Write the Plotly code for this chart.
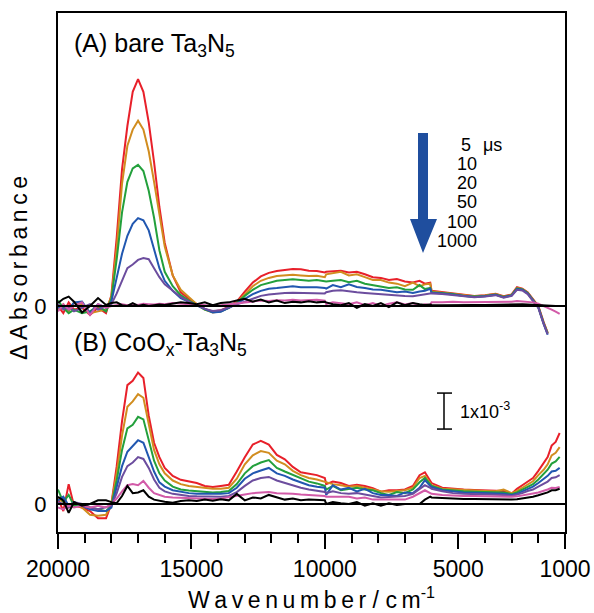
import plotly.graph_objects as go

# ---------------- data (ΔAbs in units of 1e-3) ----------------
wn_vis = [20000, 19800, 19600, 19400, 19100, 18800, 18500, 18200, 18000,
          17800, 17600, 17400, 17200, 17000, 16800, 16600, 16400, 16200, 16000, 15700, 15400, 15100,
          14800, 14500, 14200, 13900, 13600, 13300, 13000, 12700, 12400, 12100, 11800, 11500, 11200,
          10900, 10600, 10300, 10000]
wn_nir = [9950, 9700, 9400, 9100, 8800, 8500, 8200, 7900, 7600, 7300, 7000, 6700, 6450, 6250, 6050]
wn_ir = [6000, 5600, 5200, 4800, 4400, 4000, 3600, 3300, 3000, 2800, 2600, 2400, 2200, 2000,
         1800, 1650, 1500, 1350, 1200]

delays = ["5 μs", "10 μs", "20 μs", "50 μs", "100 μs", "1000 μs", "black"]
legend_labels = ["5", "10", "20", "50", "100", "1000"]

# Panel A : bare Ta3N5
a_5 = ([0.0, -0.2, 0.1, -0.1, -0.05, -0.25, -0.05, -0.2, 0.3,
        1.9, 3.8, 5.0, 5.95, 6.3, 5.95, 5.1, 4.0, 2.75, 1.75, 0.85, 0.38, 0.2,
        0.05, -0.08, -0.15, -0.12, -0.02, 0.12, 0.4, 0.65, 0.82, 0.92, 0.97, 1.0, 1.03, 1.02, 0.98, 0.97, 0.93]
       + [0.95, 0.97, 0.98, 0.93, 0.95, 0.88, 0.8, 0.78, 0.72, 0.75, 0.68, 0.65, 0.7, 0.62, 0.65]
       + [0.42, 0.38, 0.35, 0.3, 0.28, 0.3, 0.34, 0.27, 0.32, 0.52, 0.48, 0.38, 0.2, 0.0, -0.45, -0.75, None, None, None])
a_10 = ([-0.1, 0.05, -0.15, 0.1, 0.05, -0.2, -0.15, -0.1, 0.25,
         1.6, 3.4, 4.45, 4.9, 5.15, 4.9, 4.3, 3.45, 2.5, 1.65, 0.85, 0.45, 0.25,
         0.05, -0.1, -0.18, -0.15, -0.05, 0.1, 0.33, 0.55, 0.7, 0.78, 0.83, 0.85, 0.87, 0.85, 0.83, 0.84, 0.8]
        + [0.88, 0.92, 0.95, 0.85, 0.88, 0.8, 0.72, 0.72, 0.65, 0.62, 0.55, 0.65, 0.55, 0.6, 0.62]
        + [0.4, 0.37, 0.34, 0.29, 0.27, 0.29, 0.33, 0.26, 0.31, 0.5, 0.47, 0.37, 0.19, -0.02, -0.47, -0.75, None, None, None])
a_20 = ([0.15, -0.05, -0.2, -0.1, -0.2, -0.15, 0.0, -0.15, 0.2,
         1.3, 2.6, 3.45, 3.82, 3.92, 3.75, 3.2, 2.45, 1.55, 0.95, 0.55, 0.3, 0.15,
         0.03, -0.1, -0.17, -0.15, -0.05, 0.08, 0.28, 0.45, 0.58, 0.65, 0.7, 0.72, 0.74, 0.72, 0.7, 0.72, 0.68]
        + [0.68, 0.7, 0.72, 0.66, 0.7, 0.62, 0.58, 0.55, 0.5, 0.52, 0.46, 0.45, 0.58, 0.47, 0.5]
        + [0.38, 0.36, 0.33, 0.28, 0.26, 0.28, 0.32, 0.25, 0.3, 0.49, 0.46, 0.36, 0.18, -0.03, -0.48, -0.76, None, None, None])
a_50 = ([-0.05, 0.0, -0.1, 0.1, 0.12, -0.2, 0.05, -0.05, 0.12,
         0.75, 1.45, 1.95, 2.28, 2.44, 2.38, 2.1, 1.6, 1.05, 0.7, 0.42, 0.22, 0.12,
         0.02, -0.1, -0.18, -0.16, -0.06, 0.06, 0.2, 0.33, 0.42, 0.48, 0.5, 0.53, 0.55, 0.52, 0.53, 0.52, 0.5]
        + [0.48, 0.58, 0.52, 0.6, 0.53, 0.5, 0.46, 0.45, 0.42, 0.38, 0.4, 0.36, 0.4, 0.42, 0.48]
        + [0.37, 0.35, 0.32, 0.27, 0.25, 0.27, 0.31, 0.24, 0.29, 0.47, 0.45, 0.35, 0.17, -0.04, -0.5, -0.8, None, None, None])
a_100 = ([0.05, -0.1, 0.0, -0.15, -0.05, 0.05, -0.1, 0.0, 0.05,
          0.35, 0.7, 1.05, 1.15, 1.28, 1.33, 1.3, 1.05, 0.8, 0.6, 0.42, 0.25, 0.12,
          0.02, -0.08, -0.14, -0.12, -0.04, 0.04, 0.14, 0.22, 0.28, 0.32, 0.35, 0.36, 0.37, 0.36, 0.35, 0.36, 0.35]
         + [0.38, 0.42, 0.44, 0.4, 0.38, 0.36, 0.34, 0.32, 0.3, 0.3, 0.28, 0.27, 0.3, 0.33, 0.36]
         + [0.35, 0.33, 0.3, 0.26, 0.24, 0.26, 0.3, 0.23, 0.28, 0.45, 0.43, 0.33, 0.15, -0.05, -0.5, -0.78, None, None, None])
a_1000 = ([-0.15, 0.05, -0.1, 0.0, 0.1, -0.25, 0.05, -0.05, 0.0,
           0.03, 0.05, 0.02, 0.05, 0.03, 0.06, 0.05, 0.04, 0.06, 0.05, 0.08, 0.06, 0.05,
           0.05, 0.03, 0.0, 0.02, 0.05, 0.08, 0.1, 0.12, 0.15, 0.14, 0.16, 0.15, 0.17, 0.15, 0.16, 0.17, 0.15]
          + [0.05, 0.1, 0.08, 0.05, 0.1, 0.02, 0.08, 0.0, 0.06, 0.1, 0.04, 0.08, 0.0, 0.05, 0.03]
          + [0.1, 0.1, 0.12, 0.1, 0.1, 0.11, 0.12, 0.1, 0.12, 0.14, 0.13, 0.12, 0.1, 0.06, 0.0, -0.05, -0.1, -0.16, -0.22])
a_black = ([0.08, 0.2, 0.26, 0.12, -0.18, 0.0, 0.22, 0.03, 0.08,
            0.1, 0.02, 0.0, 0.08, 0.0, 0.03, 0.0, 0.02, 0.04, 0.03, 0.06, 0.1, 0.08,
            0.05, 0.1, 0.02, 0.08, 0.1, 0.15, 0.2, 0.12, 0.18, 0.1, 0.15, 0.08, 0.12, 0.1, 0.13, 0.1, 0.12]
           + [0.1, 0.05, 0.02, 0.08, -0.05, 0.05, 0.0, 0.08, -0.03, 0.1, 0.02, 0.08, 0.05, 0.03, 0.04]
           + [0.03, 0.02, 0.03, 0.02, 0.03, 0.03, 0.04, 0.03, 0.04, 0.05, 0.05, 0.04, 0.03, 0.03, 0.02, 0.0, 0.01, 0.0, 0.0])

# Panel B : CoOx-Ta3N5
b_5 = ([0.15, -0.2, 0.55, -0.05, -0.1, -0.2, -0.4, -0.4, 0.0,
        1.05, 2.3, 3.3, 3.42, 3.65, 3.5, 2.45, 1.7, 1.3, 1.0, 0.78, 0.67, 0.63,
        0.58, 0.5, 0.47, 0.5, 0.53, 0.9, 1.3, 1.65, 1.75, 1.65, 1.36, 1.24, 1.03, 0.88, 0.83, 0.8, 0.72]
       + [0.55, 0.62, 0.58, 0.5, 0.53, 0.5, 0.44, 0.34, 0.38, 0.38, 0.4, 0.5, 0.8, 0.88, 0.62]
       + [0.58, 0.45, 0.42, 0.4, 0.39, 0.38, 0.37, 0.36, 0.28, 0.42, 0.52, 0.62, 0.72, 0.92, 1.12, 1.3, 1.62, 1.72, 1.97])
b_10 = ([0.15, 0.05, -0.1, 0.0, -0.1, -0.3, -0.33, -0.3, 0.0,
         0.85, 1.9, 2.7, 2.85, 3.05, 2.95, 2.2, 1.5, 1.1, 0.85, 0.65, 0.55, 0.5,
         0.47, 0.44, 0.42, 0.42, 0.45, 0.7, 1.1, 1.35, 1.47, 1.42, 1.2, 1.1, 0.92, 0.8, 0.72, 0.68, 0.62]
        + [0.6, 0.55, 0.52, 0.48, 0.5, 0.45, 0.42, 0.35, 0.34, 0.36, 0.38, 0.45, 0.72, 0.78, 0.58]
        + [0.52, 0.42, 0.4, 0.38, 0.37, 0.36, 0.35, 0.4, 0.3, 0.36, 0.45, 0.55, 0.63, 0.8, 0.95, 1.1, 1.35, 1.42, 1.58])
b_20 = ([0.4, 0.05, 0.25, -0.05, 0.0, -0.1, -0.15, -0.2, -0.05,
         0.65, 1.5, 2.1, 2.2, 2.42, 2.35, 1.8, 1.2, 0.85, 0.65, 0.48, 0.4, 0.37,
         0.35, 0.33, 0.32, 0.33, 0.36, 0.55, 0.85, 1.05, 1.15, 1.22, 1.0, 0.9, 0.8, 0.7, 0.62, 0.57, 0.5]
        + [0.4, 0.5, 0.38, 0.42, 0.45, 0.4, 0.38, 0.3, 0.25, 0.33, 0.3, 0.4, 0.6, 0.72, 0.55]
        + [0.5, 0.4, 0.37, 0.35, 0.34, 0.33, 0.32, 0.32, 0.27, 0.32, 0.4, 0.48, 0.55, 0.68, 0.82, 0.95, 1.12, 1.18, 1.31])
b_50 = ([0.1, 0.2, -0.05, 0.05, -0.05, -0.15, -0.2, -0.2, -0.1,
         0.45, 1.05, 1.45, 1.6, 1.77, 1.7, 1.3, 0.9, 0.6, 0.48, 0.38, 0.33, 0.3,
         0.28, 0.28, 0.27, 0.28, 0.3, 0.45, 0.7, 0.85, 0.93, 1.0, 0.85, 0.78, 0.68, 0.6, 0.52, 0.48, 0.45]
        + [0.25, 0.52, 0.4, 0.45, 0.35, 0.42, 0.3, 0.25, 0.25, 0.22, 0.32, 0.3, 0.45, 0.66, 0.5]
        + [0.47, 0.38, 0.34, 0.32, 0.31, 0.3, 0.29, 0.28, 0.25, 0.28, 0.35, 0.42, 0.48, 0.58, 0.68, 0.78, 0.9, 0.92, 1.0])
b_100 = ([0.05, 0.0, -0.1, 0.05, 0.0, -0.1, -0.15, -0.1, -0.05,
          0.3, 0.75, 1.05, 1.15, 1.3, 1.25, 1.0, 0.68, 0.45, 0.35, 0.28, 0.24, 0.22,
          0.21, 0.2, 0.2, 0.2, 0.22, 0.33, 0.5, 0.65, 0.72, 0.75, 0.65, 0.58, 0.52, 0.45, 0.4, 0.36, 0.33]
         + [0.3, 0.35, 0.3, 0.28, 0.3, 0.25, 0.22, 0.18, 0.2, 0.2, 0.22, 0.28, 0.4, 0.52, 0.45]
         + [0.42, 0.35, 0.3, 0.28, 0.27, 0.26, 0.25, 0.25, 0.22, 0.25, 0.3, 0.36, 0.4, 0.48, 0.55, 0.62, 0.72, 0.74, 0.8])
b_1000 = ([-0.1, -0.15, -0.05, -0.1, -0.05, -0.1, -0.05, -0.1, 0.0,
           0.15, 0.35, 0.52, 0.55, 0.52, 0.64, 0.45, 0.3, 0.24, 0.2, 0.18, 0.17, 0.16,
           0.15, 0.15, 0.14, 0.15, 0.18, 0.22, 0.26, 0.3, 0.32, 0.33, 0.3, 0.3, 0.28, 0.26, 0.25, 0.24, 0.22]
          + [0.2, 0.2, 0.18, 0.2, 0.15, 0.18, 0.12, 0.12, 0.1, 0.12, 0.12, 0.2, 0.3, 0.38, 0.3]
          + [0.28, 0.25, 0.23, 0.22, 0.22, 0.21, 0.2, 0.2, 0.2, 0.21, 0.23, 0.26, 0.29, 0.32, 0.36, 0.4, 0.45, 0.44, 0.47])
b_black = ([0.2, 0.1, -0.25, 0.05, -0.05, 0.0, 0.1, 0.1, 0.05,
            0.02, 0.22, 0.5, 0.3, 0.32, 0.38, 0.2, 0.12, 0.08, 0.06, 0.03, 0.08, 0.1,
            0.08, 0.12, 0.09, 0.13, 0.1, 0.28, 0.1, 0.18, 0.15, 0.25, 0.18, 0.12, 0.15, 0.1, 0.12, 0.1, 0.1]
           + [0.0, 0.05, 0.02, 0.0, 0.05, -0.05, 0.02, -0.05, 0.02, -0.03, 0.0, 0.0, 0.0, 0.12, 0.2]
           + [0.18, 0.16, 0.15, 0.14, 0.14, 0.13, 0.13, 0.12, 0.12, 0.13, 0.15, 0.18, 0.2, 0.24, 0.28, 0.32, 0.38, 0.38, 0.42])

panel_a = [a_5, a_10, a_20, a_50, a_100, a_1000, a_black]
panel_b = [b_5, b_10, b_20, b_50, b_100, b_1000, b_black]
colors = ["#E8202A", "#D18D1F", "#23A03C", "#2157B0", "#6C4D9E", "#D25AA8", "#000000"]
offset_a = 5.5  # vertical stacking offset of panel A (same 1e-3 units)

wn = wn_vis + wn_nir + wn_ir

# ---------------- geometry helpers (pixel -> paper) ----------------
W, H = 594, 613
L, R, T, B = 58, 565, 13, 532
def px(x):
    return (x - L) / (R - L)
def py(y):
    return (B - y) / (B - T)

fig = go.Figure()
for ser, c in zip(panel_b, colors):
    fig.add_trace(go.Scatter(x=wn, y=ser, mode="lines", line=dict(color=c, width=2),
                             showlegend=False, hoverinfo="skip"))
for ser, c in zip(panel_a, colors):
    fig.add_trace(go.Scatter(x=wn, y=[None if v is None else v + offset_a for v in ser],
                             mode="lines", line=dict(color=c, width=2),
                             showlegend=False, hoverinfo="skip"))

font = "Liberation Sans, Arial, sans-serif"
ts = "\u2009"

shapes = [
    dict(type="line", xref="paper", yref="y", x0=0, x1=1, y0=0, y1=0, line=dict(color="black", width=2)),
    dict(type="line", xref="paper", yref="y", x0=0, x1=1, y0=offset_a, y1=offset_a, line=dict(color="black", width=2)),
    # arrow
    dict(type="path", xref="paper", yref="paper",
         path=f"M {px(418)},{py(133)} L {px(428)},{py(133)} L {px(428)},{py(219)} L {px(437)},{py(219)} "
              f"L {px(423)},{py(253)} L {px(410)},{py(219)} L {px(418)},{py(219)} Z",
         fillcolor="#1F4E9E", line=dict(width=0)),
    # scale bar (1e-3)
    dict(type="line", xref="paper", yref="y", x0=px(444), x1=px(444), y0=2.08, y1=3.08, line=dict(color="black", width=1.5)),
    dict(type="line", xref="paper", yref="y", x0=px(437), x1=px(452), y0=2.08, y1=2.08, line=dict(color="black", width=1.5)),
    dict(type="line", xref="paper", yref="y", x0=px(437), x1=px(452), y0=3.08, y1=3.08, line=dict(color="black", width=1.5)),
]

ann = []
ann.append(dict(xref="paper", yref="paper", x=px(72), y=py(45), xanchor="left", yanchor="middle",
                text="(A) bare Ta<sub>3</sub>N<sub>5</sub>", showarrow=False, font=dict(size=25, color="black", family=font)))
ann.append(dict(xref="paper", yref="paper", x=px(72), y=py(344), xanchor="left", yanchor="middle",
                text="(B) CoO<sub>x</sub>-Ta<sub>3</sub>N<sub>5</sub>", showarrow=False, font=dict(size=25, color="black", family=font)))
rows = [145, 164, 183, 202, 222, 241]
for lab, yy in zip(legend_labels, rows):
    xr = 473 if lab == "5" else 479
    ann.append(dict(xref="paper", yref="paper", x=px(xr), y=py(yy), xanchor="right", yanchor="middle",
                    text=lab, showarrow=False, font=dict(size=18, color="black", family=font)))
ann.append(dict(xref="paper", yref="paper", x=px(481), y=py(145), xanchor="left", yanchor="middle",
                text="μs", showarrow=False, font=dict(size=18, color="black", family=font)))
ann.append(dict(xref="paper", yref="paper", x=px(458), y=py(410), xanchor="left", yanchor="middle",
                text="1x10<sup>-3</sup>", showarrow=False, font=dict(size=18, color="black", family=font)))
ann.append(dict(xref="paper", yref="paper", x=0.5, y=py(598), xanchor="center", yanchor="middle",
                text=ts.join("Wavenumber") + " / " + ts.join("cm") + "<sup>-1</sup>",
                showarrow=False, font=dict(size=23, color="black", family=font)))
ann.append(dict(xref="paper", yref="paper", x=px(19), y=py(268), xanchor="center", yanchor="middle",
                text=ts.join("ΔAbsorbance"), textangle=-90,
                showarrow=False, font=dict(size=23, color="black", family=font)))

major = [20000, 15000, 10000, 5000, 1000]
minor_vals = [v for v in range(2000, 20000, 1000) if v not in major]

fig.update_layout(
    width=W, height=H, margin=dict(l=L, r=W - R, t=T, b=H - B, autoexpand=False),
    paper_bgcolor="white", plot_bgcolor="white",
    shapes=shapes, annotations=ann,
    xaxis=dict(range=[20000, 1000], showgrid=False, zeroline=False, showline=True, linecolor="black",
               linewidth=2, mirror=True, ticks="outside", tickwidth=2, ticklen=15, tickcolor="black",
               tickmode="array", tickvals=major, ticktext=[str(v) for v in major],
               tickfont=dict(size=23, color="black", family=font),
               minor=dict(tickmode="array", tickvals=minor_vals, ticks="outside", ticklen=9, tickwidth=2,
                          tickcolor="black", showgrid=False)),
    yaxis=dict(range=[-0.78, 13.64], showgrid=False, zeroline=False, showline=True, linecolor="black",
               linewidth=2, mirror=True, ticks="outside", ticklen=5, tickcolor="rgba(0,0,0,0)",
               tickmode="array", tickvals=[0, offset_a], ticktext=["0", "0"],
               tickfont=dict(size=22, color="black", family=font)),
)

fig.write_html("out.html")
